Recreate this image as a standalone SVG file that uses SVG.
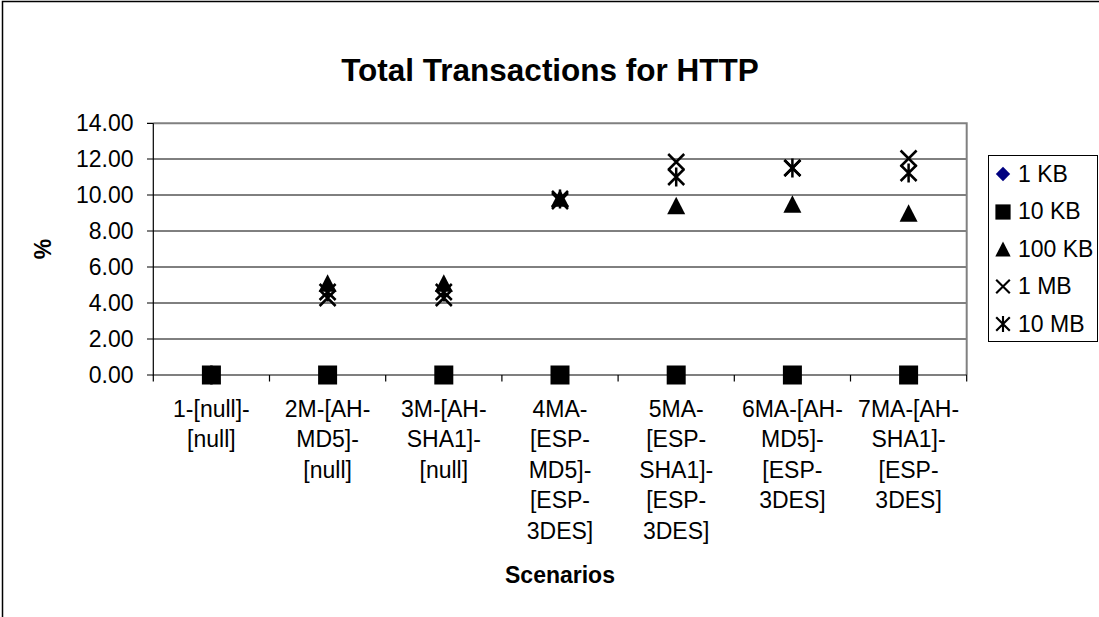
<svg xmlns="http://www.w3.org/2000/svg" xmlns:xlink="http://www.w3.org/1999/xlink" width="1099" height="617" viewBox="0 0 1099 617">
<style>
text{font-family:"Liberation Sans",Arial,sans-serif;fill:#000}
.t{font-size:23px}
.b{font-size:23px;font-weight:bold}
.ttl{font-size:31.5px;font-weight:bold}
.grid{stroke:#000;stroke-width:1}
.frame{fill:none;stroke:#808080;stroke-width:2}
.axis{fill:none;stroke:#000;stroke-width:1.2}
.xm{fill:none;stroke:#000;stroke-width:2.5}
</style>
<defs>
<rect id="sq" x="-9.5" y="-9.5" width="19" height="19" fill="#000"/>
<polygon id="tri" points="0,-8.7 9,8.7 -9,8.7" fill="#000"/>
<polygon id="dia" points="0,-8 8,0 0,8 -8,0" fill="#000080"/>
<path id="xx" class="xm" d="M-8,-8L8,8M8,-8L-8,8"/>
<path id="ast" class="xm" d="M-8,-8L8,8M8,-8L-8,8M0,-9.5V9.5"/>
</defs>
<rect width="1099" height="617" fill="#fff"/>
<g id="chart-frame"><rect x="2.5" y="1.5" width="1200" height="700" fill="none" stroke="#000" stroke-width="1.5"/></g>
<g id="title"><text class="ttl" x="550" y="81" text-anchor="middle">Total Transactions for HTTP</text></g>
<g id="plot-area">
<g id="gridlines">
<line class="grid" x1="153.3" y1="159" x2="966.7" y2="159"/>
<line class="grid" x1="153.3" y1="195" x2="966.7" y2="195"/>
<line class="grid" x1="153.3" y1="231" x2="966.7" y2="231"/>
<line class="grid" x1="153.3" y1="267" x2="966.7" y2="267"/>
<line class="grid" x1="153.3" y1="303" x2="966.7" y2="303"/>
<line class="grid" x1="153.3" y1="339" x2="966.7" y2="339"/>
</g>
<path class="frame" d="M153.3,123.3H966.7V375"/>
<g id="axes">
<path class="axis" d="M153.3,123.3V375H966.7"/>
<path class="axis" d="M147,123.3H153.3M147,159H153.3M147,195H153.3M147,231H153.3M147,267H153.3M147,303H153.3M147,339H153.3M147,375H153.3"/>
<path class="axis" d="M153.3,375V381.5M269.5,375V381.5M385.7,375V381.5M501.9,375V381.5M618.1,375V381.5M734.3,375V381.5M850.5,375V381.5M966.7,375V381.5"/>
</g>
</g>
<g id="y-labels" text-anchor="end">
<text class="t" x="133.5" y="131.3">14.00</text>
<text class="t" x="133.5" y="167">12.00</text>
<text class="t" x="133.5" y="203">10.00</text>
<text class="t" x="133.5" y="239">8.00</text>
<text class="t" x="133.5" y="275">6.00</text>
<text class="t" x="133.5" y="311">4.00</text>
<text class="t" x="133.5" y="347">2.00</text>
<text class="t" x="133.5" y="383">0.00</text>
</g>
<g id="y-title"><text class="b" transform="translate(51,249) rotate(-90)" text-anchor="middle">%</text></g>
<g id="x-labels" text-anchor="middle">
<text class="t" x="211.4" y="416.5">1-[null]-</text>
<text class="t" x="211.4" y="447">[null]</text>
<text class="t" x="327.6" y="416.5">2M-[AH-</text>
<text class="t" x="327.6" y="447">MD5]-</text>
<text class="t" x="327.6" y="477.5">[null]</text>
<text class="t" x="443.8" y="416.5">3M-[AH-</text>
<text class="t" x="443.8" y="447">SHA1]-</text>
<text class="t" x="443.8" y="477.5">[null]</text>
<text class="t" x="560" y="416.5">4MA-</text>
<text class="t" x="560" y="447">[ESP-</text>
<text class="t" x="560" y="477.5">MD5]-</text>
<text class="t" x="560" y="508">[ESP-</text>
<text class="t" x="560" y="538.5">3DES]</text>
<text class="t" x="676.2" y="416.5">5MA-</text>
<text class="t" x="676.2" y="447">[ESP-</text>
<text class="t" x="676.2" y="477.5">SHA1]-</text>
<text class="t" x="676.2" y="508">[ESP-</text>
<text class="t" x="676.2" y="538.5">3DES]</text>
<text class="t" x="792.4" y="416.5">6MA-[AH-</text>
<text class="t" x="792.4" y="447">MD5]-</text>
<text class="t" x="792.4" y="477.5">[ESP-</text>
<text class="t" x="792.4" y="508">3DES]</text>
<text class="t" x="908.6" y="416.5">7MA-[AH-</text>
<text class="t" x="908.6" y="447">SHA1]-</text>
<text class="t" x="908.6" y="477.5">[ESP-</text>
<text class="t" x="908.6" y="508">3DES]</text>
</g>
<g id="x-title"><text class="b" x="560" y="583" text-anchor="middle">Scenarios</text></g>
<g id="series-1KB">
<use xlink:href="#dia" x="211.4" y="375"/><use xlink:href="#dia" x="327.6" y="375"/><use xlink:href="#dia" x="443.8" y="375"/><use xlink:href="#dia" x="560" y="375"/><use xlink:href="#dia" x="676.2" y="375"/><use xlink:href="#dia" x="792.4" y="375"/><use xlink:href="#dia" x="908.6" y="375"/>
</g>
<g id="series-10KB">
<use xlink:href="#sq" x="211.4" y="375"/><use xlink:href="#sq" x="327.6" y="375"/><use xlink:href="#sq" x="443.8" y="375"/><use xlink:href="#sq" x="560" y="375"/><use xlink:href="#sq" x="676.2" y="375"/><use xlink:href="#sq" x="792.4" y="375"/><use xlink:href="#sq" x="908.6" y="375"/>
</g>
<g id="series-100KB">
<use xlink:href="#tri" x="211.4" y="375"/><use xlink:href="#tri" x="327.6" y="283"/><use xlink:href="#tri" x="443.8" y="283"/><use xlink:href="#tri" x="560" y="198"/><use xlink:href="#tri" x="676.2" y="205.5"/><use xlink:href="#tri" x="792.4" y="204"/><use xlink:href="#tri" x="908.6" y="213"/>
</g>
<g id="series-1MB">
<use xlink:href="#xx" x="211.4" y="375"/><use xlink:href="#xx" x="327.6" y="298"/><use xlink:href="#xx" x="443.8" y="298"/><use xlink:href="#xx" x="560" y="201"/><use xlink:href="#xx" x="676.2" y="162"/><use xlink:href="#xx" x="792.4" y="168"/><use xlink:href="#xx" x="908.6" y="158.5"/>
</g>
<g id="series-10MB">
<use xlink:href="#ast" x="211.4" y="375"/><use xlink:href="#ast" x="327.6" y="292"/><use xlink:href="#ast" x="443.8" y="292"/><use xlink:href="#ast" x="560" y="199"/><use xlink:href="#ast" x="676.2" y="177"/><use xlink:href="#ast" x="792.4" y="168"/><use xlink:href="#ast" x="908.6" y="173"/>
</g>
<g id="legend">
<rect x="988.5" y="155.5" width="109" height="186" fill="#fff" stroke="#000" stroke-width="1"/>
<use xlink:href="#dia" transform="translate(1003,174) scale(0.9)"/>
<use xlink:href="#sq" transform="translate(1003,212) scale(0.8)"/>
<use xlink:href="#tri" transform="translate(1003,249) scale(0.85)"/>
<use xlink:href="#xx" transform="translate(1003,286.5) scale(0.85)"/>
<use xlink:href="#ast" transform="translate(1003,324) scale(0.85)"/>
<text class="t" x="1018" y="181.7">1 KB</text>
<text class="t" x="1018" y="219.2">10 KB</text>
<text class="t" x="1018" y="256.7">100 KB</text>
<text class="t" x="1018" y="294.2">1 MB</text>
<text class="t" x="1018" y="331.7">10 MB</text>
</g>
</svg>
